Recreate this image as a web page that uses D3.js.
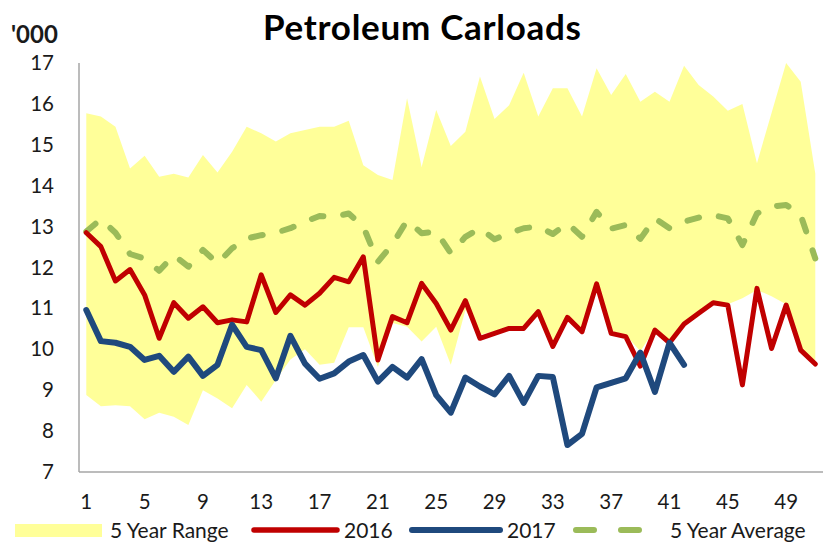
<!DOCTYPE html>
<html>
<head>
<meta charset="utf-8">
<script src="https://cdn.jsdelivr.net/npm/d3@7"></script>
<style>
  html, body { margin: 0; padding: 0; background: #fff; }
  svg { display: block; font-family: Lato, "Open Sans", sans-serif; }
</style>
</head>
<body>
<svg id="chart" width="823" height="544"></svg>
<script>
// ---- data ----
const weekCategories = [1,2,3,4,5,6,7,8,9,10,11,12,13,14,15,16,17,18,19,20,21,22,23,24,25,26,27,28,29,30,31,32,33,34,35,36,37,38,39,40,41,42,43,44,45,46,47,48,49,50,51,52];
const xTickLabels = [1,5,9,13,17,21,25,29,33,37,41,45,49];
const yTickLabels = [7,8,9,10,11,12,13,14,15,16,17];

const rangeHigh = [15.77,15.69,15.44,14.42,14.73,14.22,14.29,14.2,14.75,14.32,14.83,15.44,15.28,15.08,15.28,15.36,15.44,15.44,15.59,14.5,14.26,14.14,16.14,14.46,15.85,14.97,15.32,16.67,15.63,15.97,16.76,15.69,16.38,16.38,15.69,16.87,16.22,16.73,16.05,16.3,16.05,16.93,16.46,16.18,15.83,16.0,14.55,15.78,17.0,16.54,14.3];
const rangeLow = [8.88,8.61,8.63,8.61,8.29,8.45,8.35,8.15,9.0,8.8,8.56,9.13,8.72,9.25,9.75,10.0,9.62,9.67,10.54,10.54,9.57,10.64,10.55,10.19,10.55,9.62,10.96,10.35,10.45,10.55,10.55,10.95,10.15,10.8,10.5,11.6,10.45,10.35,9.95,10.5,10.2,10.65,10.9,11.15,11.1,11.25,11.45,11.3,11.1,10.0,9.68];
const series2016 = [12.85,12.51,11.67,11.95,11.33,10.27,11.14,10.76,11.04,10.65,10.72,10.67,11.82,10.9,11.33,11.08,11.37,11.76,11.65,12.26,9.74,10.8,10.65,11.61,11.12,10.47,11.19,10.27,10.39,10.51,10.51,10.92,10.07,10.78,10.43,11.6,10.39,10.31,9.59,10.47,10.16,10.62,10.88,11.14,11.08,9.13,11.49,10.02,11.08,9.98,9.64];
const series2017 = [10.96,10.2,10.16,10.06,9.74,9.84,9.45,9.82,9.35,9.62,10.6,10.06,9.98,9.29,10.33,9.65,9.28,9.41,9.7,9.86,9.21,9.57,9.31,9.76,8.88,8.45,9.31,9.09,8.9,9.35,8.69,9.35,9.32,7.66,7.93,9.07,9.18,9.29,9.92,8.96,10.16,9.62];
const avg5 = [12.88,13.18,12.85,12.33,12.22,11.92,12.3,12.02,12.43,12.1,12.47,12.71,12.79,12.85,12.96,13.12,13.26,13.24,13.32,13.0,12.14,12.57,13.15,12.84,12.88,12.35,12.75,12.96,12.69,12.84,12.96,13.0,12.82,13.08,12.75,13.36,12.95,13.04,12.7,13.2,12.96,13.12,13.22,13.28,13.2,12.55,13.32,13.49,13.53,13.28,12.22];
const legendLabels = ["5 Year Range", "2016", "2017", "5 Year Average"];
const titleText = "Petroleum Carloads";
const unitText = "'000";

// ---- layout ----
const colors = { range: "#FFFF99", s2016: "#C00000", s2017: "#1F497D", avg: "#9BBB59", axis: "#A6A6A6", text: "#1a1a1a" };
const plotLeft = 79, plotTop = 63, plotBottom = 472, step = 14.58;

const svg = d3.select("#chart");

const x = d3.scaleBand().domain(weekCategories).range([plotLeft, plotLeft + step * weekCategories.length]).padding(0);
const cx = w => x(w) + x.bandwidth() / 2;
const y = d3.scaleLinear().domain([7, 17]).range([plotBottom, plotTop]);

const rangeData = rangeHigh.map((h, i) => ({ w: weekCategories[i], hi: h, lo: rangeLow[i] }));

// range area
svg.append("path")
  .datum(rangeData)
  .attr("fill", colors.range)
  .attr("d", d3.area().x(d => cx(d.w)).y0(d => y(d.lo)).y1(d => y(d.hi)));

// axes
const yAxis = d3.axisLeft(y).tickValues(yTickLabels).tickSize(0).tickPadding(25).tickFormat(d3.format("d"));
const gy = svg.append("g").attr("transform", `translate(${plotLeft},0)`).call(yAxis);
gy.select(".domain").remove();
gy.selectAll("text").attr("font-size", 20.5).attr("fill", colors.text).attr("font-family", "Lato, sans-serif");

const xAxis = d3.axisBottom(x).tickValues(xTickLabels).tickSize(0).tickPadding(22);
const gx = svg.append("g").attr("transform", `translate(0,${plotBottom})`).call(xAxis);
gx.select(".domain").remove();
gx.selectAll("text").attr("font-size", 20.5).attr("fill", colors.text).attr("font-family", "Lato, sans-serif");

svg.append("line").attr("x1", plotLeft).attr("x2", plotLeft).attr("y1", y(17)).attr("y2", plotBottom)
  .attr("stroke", colors.axis).attr("stroke-width", 1.5);
svg.append("line").attr("x1", plotLeft).attr("x2", 823).attr("y1", plotBottom).attr("y2", plotBottom)
  .attr("stroke", colors.axis).attr("stroke-width", 1.5);

// lines
const line = d3.line().x((d, i) => cx(weekCategories[i])).y(d => y(d));

svg.append("path").datum(avg5)
  .attr("fill", "none").attr("stroke", colors.avg).attr("stroke-width", 6)
  .attr("stroke-dasharray", "12,20").attr("stroke-linecap", "round").attr("stroke-linejoin", "round")
  .attr("d", line);

svg.append("path").datum(series2016)
  .attr("fill", "none").attr("stroke", colors.s2016).attr("stroke-width", 5)
  .attr("stroke-linejoin", "round").attr("stroke-linecap", "round")
  .attr("d", line);

svg.append("path").datum(series2017)
  .attr("fill", "none").attr("stroke", colors.s2017).attr("stroke-width", 6)
  .attr("stroke-linejoin", "round").attr("stroke-linecap", "round")
  .attr("d", line);

// title & unit
svg.append("text").attr("x", 422).attr("y", 40).attr("text-anchor", "middle")
  .attr("font-size", 35).attr("font-weight", "bold").attr("fill", "#000")
  .attr("textLength", 318).attr("lengthAdjust", "spacing").text(titleText);
svg.append("text").attr("x", 11).attr("y", 43)
  .attr("font-size", 24).attr("font-weight", "bold").attr("fill", colors.text).text(unitText);

// legend
const ly = 530;
const lg = svg.append("g").attr("font-size", 21).attr("fill", colors.text);
lg.append("rect").attr("x", 15).attr("y", ly - 6).attr("width", 87).attr("height", 13).attr("fill", colors.range);
lg.append("text").attr("x", 110).attr("y", ly + 7.5).text(legendLabels[0]);
lg.append("line").attr("x1", 254).attr("x2", 337).attr("y1", ly).attr("y2", ly)
  .attr("stroke", colors.s2016).attr("stroke-width", 5.5).attr("stroke-linecap", "round");
lg.append("text").attr("x", 344).attr("y", ly + 7.5).text(legendLabels[1]);
lg.append("line").attr("x1", 412).attr("x2", 500).attr("y1", ly).attr("y2", ly)
  .attr("stroke", colors.s2017).attr("stroke-width", 6).attr("stroke-linecap", "round");
lg.append("text").attr("x", 507).attr("y", ly + 7.5).text(legendLabels[2]);
lg.append("line").attr("x1", 576).attr("x2", 645).attr("y1", ly).attr("y2", ly)
  .attr("stroke", colors.avg).attr("stroke-width", 6).attr("stroke-linecap", "round")
  .attr("stroke-dasharray", "18,27");
lg.append("text").attr("x", 670).attr("y", ly + 7.5).text(legendLabels[3]);
</script>
</body>
</html>
